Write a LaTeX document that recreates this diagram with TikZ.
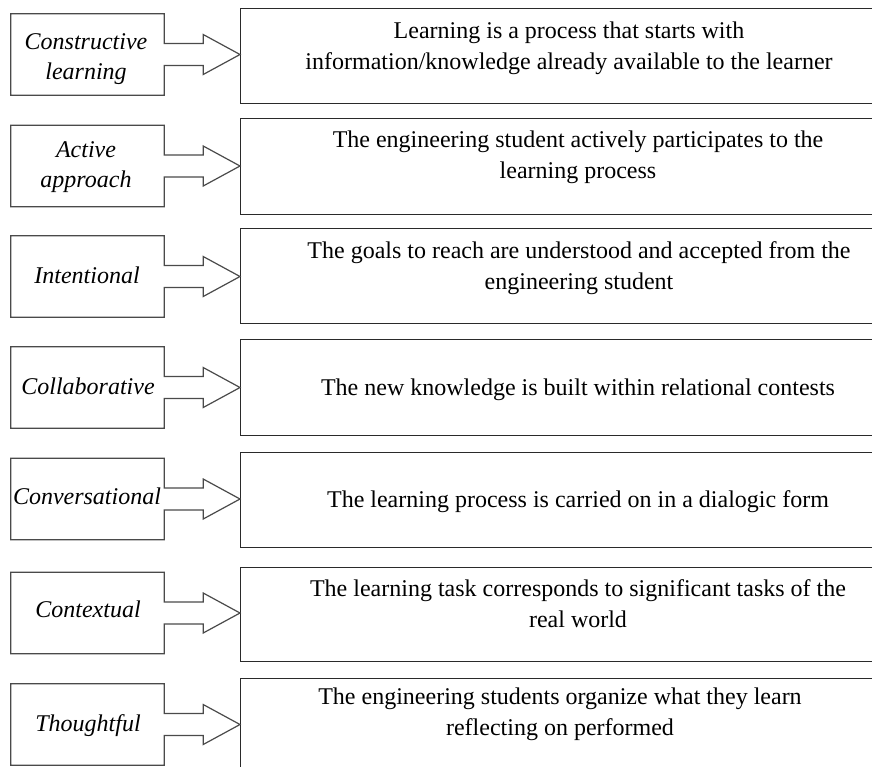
\documentclass[tikz,border=0pt]{standalone}
\usepackage{fontspec}
\setmainfont{Liberation Serif}
\usetikzlibrary{calc}
\definecolor{boxgray}{HTML}{4A4A4A}
\definecolor{boxdark}{HTML}{2A2A2A}
\begin{document}
\begin{tikzpicture}[x=1pt,y=-1pt,
  leftbox/.style={draw=none, minimum width=153pt, minimum height=81pt, inner sep=0pt},
  rightbox/.style={draw=boxdark, line width=1.2pt, inner sep=0pt, minimum width=640pt, anchor=north west},
  desc/.style={font=\fontsize{24}{30.5}\selectfont, align=center, anchor=base, inner sep=0pt},
  term/.style={font=\fontsize{24}{29.5}\selectfont\itshape, align=center, anchor=base, inner sep=0pt},
  outline/.style={draw=boxgray, line width=1.2pt, line join=miter}]
\useasboundingbox (0,0) rectangle (872,766);

% left boxes (centres)
\node[leftbox] (L1) at (87.5,54.5) {};
\node[leftbox] (L2) at (87.5,166) {};
\node[leftbox] (L3) at (87.5,276.5) {};
\node[leftbox] (L4) at (87.5,387.5) {};
\node[leftbox] (L5) at (87.5,499) {};
\node[leftbox] (L6) at (87.5,613) {};
\node[leftbox] (L7) at (87.5,724.5) {};

% right boxes
\node[rightbox, minimum height=95pt] (R1) at (240,8) {};
\node[rightbox, minimum height=96pt] (R2) at (240,118) {};
\node[rightbox, minimum height=95pt] (R3) at (240,228) {};
\node[rightbox, minimum height=96pt] (R4) at (240,339) {};
\node[rightbox, minimum height=95pt] (R5) at (240,452) {};
\node[rightbox, minimum height=94pt] (R6) at (240,567) {};
\node[rightbox, minimum height=95pt] (R7) at (240,678) {};

% left box outlines merged with block arrows
\foreach \i in {1,...,7}{
  \draw[outline] ($(L\i.east)+(0,-11)$) -- (L\i.north east) -- (L\i.north west)
    -- (L\i.south west) -- (L\i.south east) -- ($(L\i.east)+(0,11)$)
    -- ($(L\i.east)+(39,11)$) -- ($(L\i.east)+(39,20)$) -- (R\i.west |- L\i.east)
    -- ($(L\i.east)+(39,-20)$) -- ($(L\i.east)+(39,-11)$) -- cycle;
}

% left labels (anchor = baseline of last line)
\node[term] (t1) at (86,79) {Constructive\\learning};
\node[term] (t2) at (86,187) {Active\\approach};
\node[term] (t3) at (87,283) {Intentional};
\node[term] (t4) at (88,394) {Collaborative};
\node[term] (t5) at (87,504) {Conversational};
\node[term] (t6) at (88,617) {Contextual};
\node[term] (t7) at (88,731) {Thoughtful};

% right descriptions (anchor = baseline of last line)
\node[desc] (d1) at (569,69) {Learning is a process that starts with\\information/knowledge already available to the learner};
\node[desc] (d2) at (578,178) {The engineering student actively participates to the\\learning process};
\node[desc] (d3) at (579,289) {The goals to reach are understood and accepted from the\\engineering student};
\node[desc] (d4) at (578,395) {The new knowledge is built within relational contests};
\node[desc] (d5) at (578,507) {The learning process is carried on in a dialogic form};
\node[desc] (d6) at (578,627) {The learning task corresponds to significant tasks of the\\real world};
\node[desc] (d7) at (560,735) {The engineering students organize what they learn\\reflecting on performed};
\end{tikzpicture}
\end{document}
